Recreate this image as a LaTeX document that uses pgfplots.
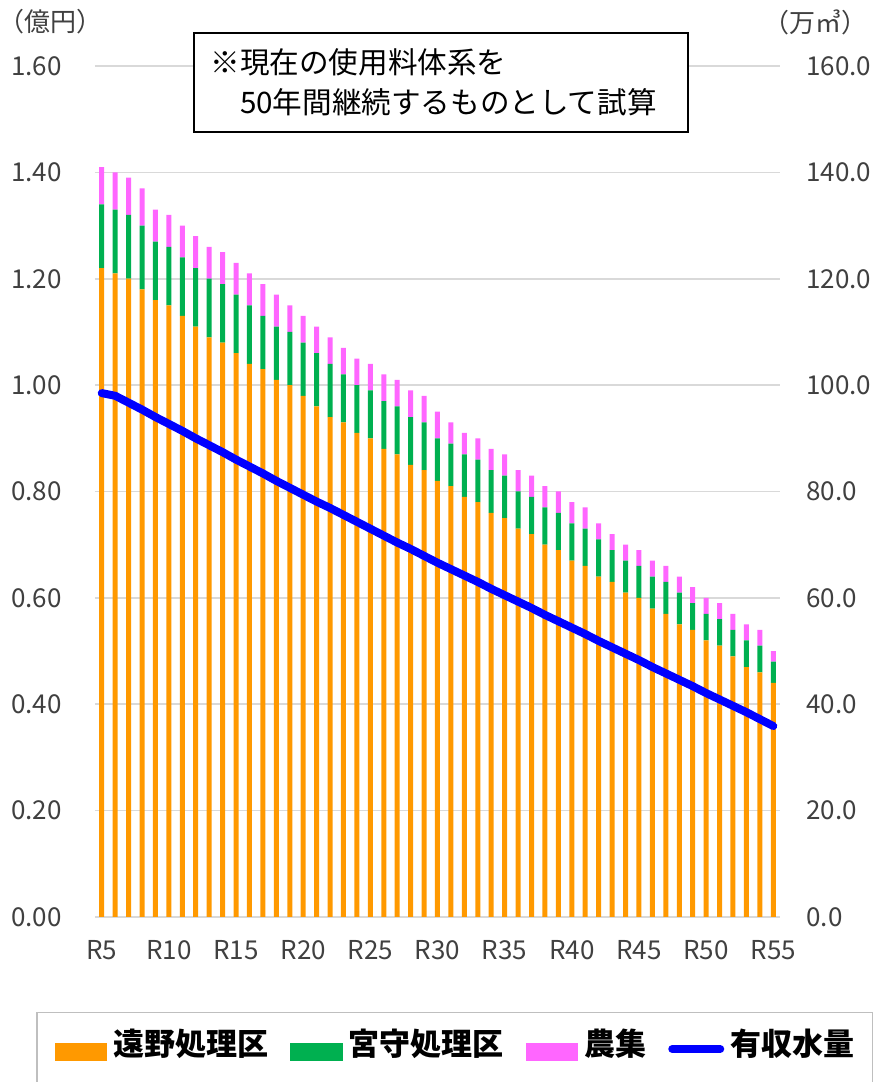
\documentclass[border=0pt]{standalone}
\usepackage{fontspec}
\setmainfont{Noto Sans CJK JP}
\usepackage{pgfplots}
\usepackage{pgfplotstable}
\pgfplotsset{compat=1.18}

\definecolor{tono}{HTML}{FF9900}
\definecolor{miya}{HTML}{00B050}
\definecolor{nou}{HTML}{FF66FF}
\definecolor{vol}{HTML}{0000FF}
\definecolor{gridc}{HTML}{D9D9D9}
\definecolor{tickc}{HTML}{404040}
\definecolor{legc}{HTML}{BFBFBF}

% x: 0 = R5 ... 50 = R55; revenue in 億円, volume in 万m3
\pgfplotstableread{
x tono miya nou vol
0 1.22 0.12 0.07 98.5
1 1.21 0.12 0.07 98.0
2 1.20 0.12 0.07 96.7
3 1.18 0.12 0.07 95.4
4 1.16 0.11 0.06 94.0
5 1.15 0.11 0.06 92.7
6 1.13 0.11 0.06 91.4
7 1.11 0.11 0.06 90.0
8 1.09 0.11 0.06 88.7
9 1.08 0.11 0.06 87.4
10 1.06 0.11 0.06 86.0
11 1.04 0.11 0.06 84.7
12 1.03 0.10 0.06 83.4
13 1.01 0.10 0.06 82.0
14 1.00 0.10 0.05 80.7
15 0.98 0.10 0.05 79.4
16 0.96 0.10 0.05 78.1
17 0.94 0.10 0.05 76.9
18 0.93 0.09 0.05 75.6
19 0.91 0.09 0.05 74.3
20 0.90 0.09 0.05 73.0
21 0.88 0.09 0.05 71.7
22 0.87 0.09 0.05 70.4
23 0.85 0.09 0.05 69.2
24 0.84 0.09 0.05 67.9
25 0.82 0.08 0.05 66.6
26 0.81 0.08 0.04 65.4
27 0.79 0.08 0.04 64.2
28 0.78 0.08 0.04 63.0
29 0.76 0.08 0.04 61.7
30 0.75 0.08 0.04 60.5
31 0.73 0.07 0.04 59.3
32 0.72 0.07 0.04 58.1
33 0.70 0.07 0.04 56.8
34 0.69 0.07 0.04 55.6
35 0.67 0.07 0.04 54.4
36 0.66 0.07 0.04 53.2
37 0.64 0.07 0.03 51.9
38 0.63 0.06 0.03 50.7
39 0.61 0.06 0.03 49.5
40 0.60 0.06 0.03 48.3
41 0.58 0.06 0.03 47.0
42 0.57 0.06 0.03 45.8
43 0.55 0.06 0.03 44.6
44 0.54 0.05 0.03 43.4
45 0.52 0.05 0.03 42.1
46 0.51 0.05 0.03 40.9
47 0.49 0.05 0.03 39.7
48 0.47 0.05 0.03 38.5
49 0.46 0.05 0.03 37.2
50 0.44 0.04 0.02 35.9
}\data

\pgfplotsset{
  common/.style={
    at={(47.5pt,82.5pt)}, anchor=south west,
    width=342.5pt, height=425.5pt, scale only axis,
    xmin=-0.5, xmax=50.5,
    axis line style={draw=none},
    major tick length=0pt,
    ticklabel style={font=\fontsize{13pt}{15pt}\selectfont, text=tickc},
    /pgf/number format/assume math mode=true,
  },
}

\begin{document}
\begin{tikzpicture}
\useasboundingbox (0,0) rectangle (438.5pt,541pt);

\begin{axis}[common,
  ymin=0, ymax=1.6,
  ybar stacked, bar width=2.5pt,
  ytick={0,0.2,0.4,0.6,0.8,1.0,1.2,1.4,1.6},
  ymajorgrids, grid style={gridc, line width=0.85pt},
  xtick={0,5,10,15,20,25,30,35,40,45,50},
  xticklabels={R5,R10,R15,R20,R25,R30,R35,R40,R45,R50,R55},
  xticklabel style={anchor=north, inner sep=0pt, yshift=-11.75pt},
  yticklabel style={/pgf/number format/fixed, /pgf/number format/fixed zerofill,
    /pgf/number format/precision=2, anchor=east, inner sep=0pt, xshift=-16.5pt},
]
\addplot[fill=tono, draw=none] table[x=x, y=tono]{\data};
\addplot[fill=miya, draw=none] table[x=x, y=miya]{\data};
\addplot[fill=nou, draw=none] table[x=x, y=nou]{\data};
\end{axis}

\begin{axis}[common,
  ymin=0, ymax=160,
  xtick=\empty,
  ytick={0,20,40,60,80,100,120,140,160},
  yticklabel pos=right,
  yticklabel style={/pgf/number format/fixed, /pgf/number format/fixed zerofill,
    /pgf/number format/precision=1, anchor=west, inner sep=0pt, xshift=13pt},
  clip=false,
  legend columns=4,
  legend style={at={(-0.0861,-0.1116)}, anchor=north west,
    draw=legc, line width=0.75pt, inner xsep=9pt, inner ysep=8pt,
    font=\fontsize{15.5pt}{18pt}\selectfont\bfseries,
    nodes={inner sep=0pt, text depth=7pt},
    /tikz/every odd column/.append style={column sep=3pt},
    /tikz/every even column/.append style={column sep=11pt}},
]
\addlegendimage{legend image code/.code={\fill[tono] (0pt,-5.75pt) rectangle (25.5pt,2.75pt);}}
\addlegendentry{遠野処理区}
\addlegendimage{legend image code/.code={\fill[miya] (0pt,-5.75pt) rectangle (25.5pt,2.75pt);}}
\addlegendentry{宮守処理区}
\addlegendimage{legend image code/.code={\fill[nou] (0pt,-5.75pt) rectangle (25.5pt,2.75pt);}}
\addlegendentry{農集}
\addplot[vol, line width=4pt, line cap=round, line join=round,
  legend image code/.code={\draw[vol, line width=4pt, line cap=round] (2pt,0pt) -- (26pt,0pt);}]
  table[x=x, y=vol]{\data};
\addlegendentry{有収水量}
\end{axis}

\node[draw=black, line width=0.75pt, fill=white, minimum width=247pt,
  minimum height=49.5pt, inner sep=0pt] at (220.5pt,499.75pt) {};
\node[anchor=west, align=left, inner sep=0pt,
  font=\fontsize{14.8pt}{20pt}\selectfont] at (105pt,500pt)
  {※現在の使用料体系を\\　50年間継続するものとして試算};

\node[font=\fontsize{13pt}{15pt}\selectfont, text=tickc] at (25pt,530pt) {（億円）};
\node[font=\fontsize{13pt}{15pt}\selectfont, text=tickc] at (407.5pt,530pt) {（万㎥）};
\end{tikzpicture}
\end{document}
